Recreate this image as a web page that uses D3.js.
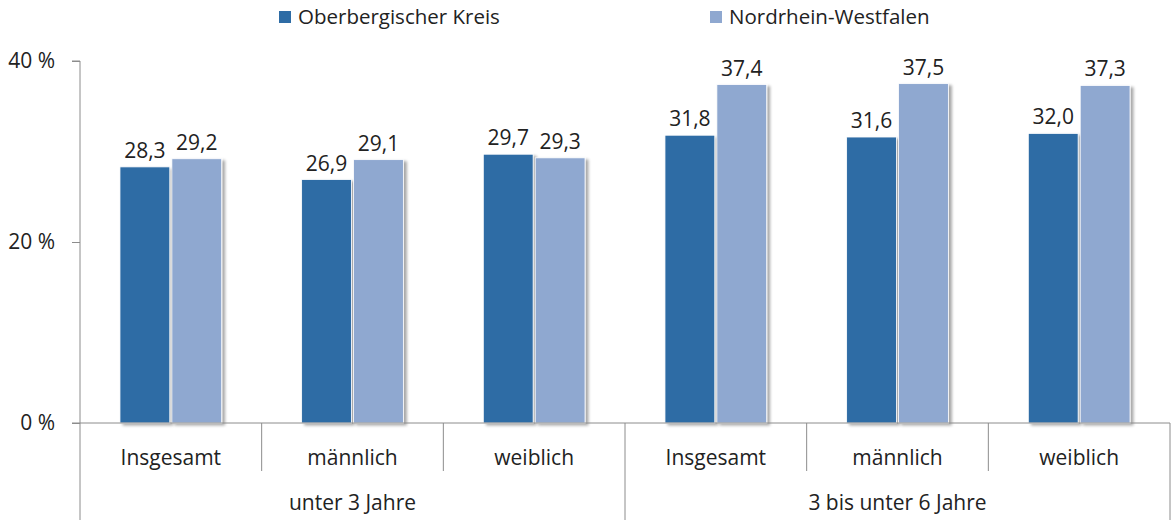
<!DOCTYPE html>
<html>
<head>
<meta charset="utf-8">
<script src="https://cdn.jsdelivr.net/npm/d3@7"></script>
<style>
  body { margin: 0; background: #fff; }
  svg { font-family: "Open Sans", "Noto Sans", sans-serif; }
</style>
</head>
<body>
<div id="chart"><svg></svg></div>
<script>
// data
var categories = ["Insgesamt", "männlich", "weiblich", "Insgesamt", "männlich", "weiblich"];
var groups = ["unter 3 Jahre", "3 bis unter 6 Jahre"];
var seriesNames = ["Oberbergischer Kreis", "Nordrhein-Westfalen"];
var oberberg = [28.3, 26.9, 29.7, 31.8, 31.6, 32.0];
var nrw = [29.2, 29.1, 29.3, 37.4, 37.5, 37.3];
var yTicks = [0, 20, 40];
var colors = ["#2e6ca5", "#8fa8d0"];

var width = 1176, height = 522;
var margin = {top: 61, right: 6, bottom: 99, left: 80};
var innerW = width - margin.left - margin.right,
    innerH = height - margin.top - margin.bottom;

var svg = d3.select("#chart").select("svg")
    .attr("width", width)
    .attr("height", height);

// soft shadow like the original
var defs = svg.append("defs");
var f = defs.append("filter").attr("id", "shadow")
    .attr("x", "-20%").attr("y", "-10%").attr("width", "150%").attr("height", "130%");
f.append("feGaussianBlur").attr("in", "SourceAlpha").attr("stdDeviation", 1.6);
f.append("feOffset").attr("dx", 2.5).attr("dy", 1.5).attr("result", "blur");
f.append("feComponentTransfer").append("feFuncA").attr("type", "linear").attr("slope", 0.35);
var m = f.append("feMerge");
m.append("feMergeNode");
m.append("feMergeNode").attr("in", "SourceGraphic");

var g = svg.append("g")
    .attr("transform", "translate(" + margin.left + "," + margin.top + ")");

var idx = d3.range(categories.length);
var x0 = d3.scaleBand().domain(idx).range([0, innerW]).paddingInner(0).paddingOuter(0);
var x1 = d3.scaleBand().domain([0, 1]).range([x0.bandwidth() * 0.22, x0.bandwidth() * 0.78]).paddingInner(0.04);
var y = d3.scaleLinear().domain([0, 40]).range([innerH, 0]);

var fmt = function (v) { return d3.format(".1f")(v).replace(".", ","); };

// bars
var data = idx.map(function (i) { return [oberberg[i], nrw[i]]; });
var grp = g.selectAll(".grp").data(data).enter().append("g")
    .attr("transform", function (d, i) { return "translate(" + x0(i) + ",0)"; });

grp.selectAll("rect").data(function (d) { return d; }).enter().append("rect")
    .attr("x", function (d, j) { return x1(j); })
    .attr("y", function (d) { return y(d); })
    .attr("width", x1.bandwidth())
    .attr("height", function (d) { return innerH - y(d); })
    .attr("fill", function (d, j) { return colors[j]; })
    .attr("stroke", "#fff")
    .attr("stroke-width", 0.8)
    .attr("filter", "url(#shadow)");

grp.selectAll("text").data(function (d) { return d; }).enter().append("text")
    .attr("x", function (d, j) { return x1(j) + x1.bandwidth() / 2; })
    .attr("y", function (d) { return y(d) - 9; })
    .attr("text-anchor", "middle")
    .attr("font-size", 21)
    .attr("fill", "#222")
    .text(fmt);

// y axis
var yAxis = g.append("g")
    .call(d3.axisLeft(y).tickValues(yTicks).tickSize(8).tickPadding(17)
        .tickFormat(function (d) { return d + " %"; }));
yAxis.select(".domain").attr("stroke", "#8c8c8c").attr("d", "M-8,0H0V" + innerH);
yAxis.selectAll(".tick line").attr("stroke", "#8c8c8c");
yAxis.selectAll(".tick text").attr("font-size", 21).attr("fill", "#222")
    .attr("font-family", "'Open Sans', sans-serif");

// x axis line
g.append("line")
    .attr("x1", -8).attr("x2", innerW)
    .attr("y1", innerH).attr("y2", innerH)
    .attr("stroke", "#8c8c8c");

// category separators
idx.forEach(function (i) {
    if (i === 0) return;
    var xp = x0(i);
    var major = (i === 3);
    g.append("line")
        .attr("x1", xp).attr("x2", xp)
        .attr("y1", innerH).attr("y2", innerH + (major ? 97 : 48))
        .attr("stroke", "#8c8c8c");
});
[0, innerW].forEach(function (xp) {
    g.append("line")
        .attr("x1", xp).attr("x2", xp)
        .attr("y1", innerH).attr("y2", innerH + 97)
        .attr("stroke", "#8c8c8c");
});

// category labels
g.selectAll(".cat").data(categories).enter().append("text")
    .attr("x", function (d, i) { return x0(i) + x0.bandwidth() / 2; })
    .attr("y", innerH + 42)
    .attr("text-anchor", "middle")
    .attr("font-size", 21)
    .attr("fill", "#222")
    .text(function (d) { return d; });

g.selectAll(".grplabel").data(groups).enter().append("text")
    .attr("x", function (d, i) { return x0(i * 3) + x0.bandwidth() * 1.5; })
    .attr("y", innerH + 87)
    .attr("text-anchor", "middle")
    .attr("font-size", 21)
    .attr("fill", "#222")
    .text(function (d) { return d; });

// legend
var legendX = [279, 710];
var legend = svg.selectAll(".legend").data(seriesNames).enter().append("g")
    .attr("transform", function (d, i) { return "translate(" + legendX[i] + ",11)"; });
legend.append("rect")
    .attr("width", 12).attr("height", 12)
    .attr("fill", function (d, i) { return colors[i]; });
legend.append("text")
    .attr("x", 19).attr("y", 13)
    .attr("font-size", 20.5)
    .attr("fill", "#222")
    .text(function (d) { return d; });
</script>
</body>
</html>
